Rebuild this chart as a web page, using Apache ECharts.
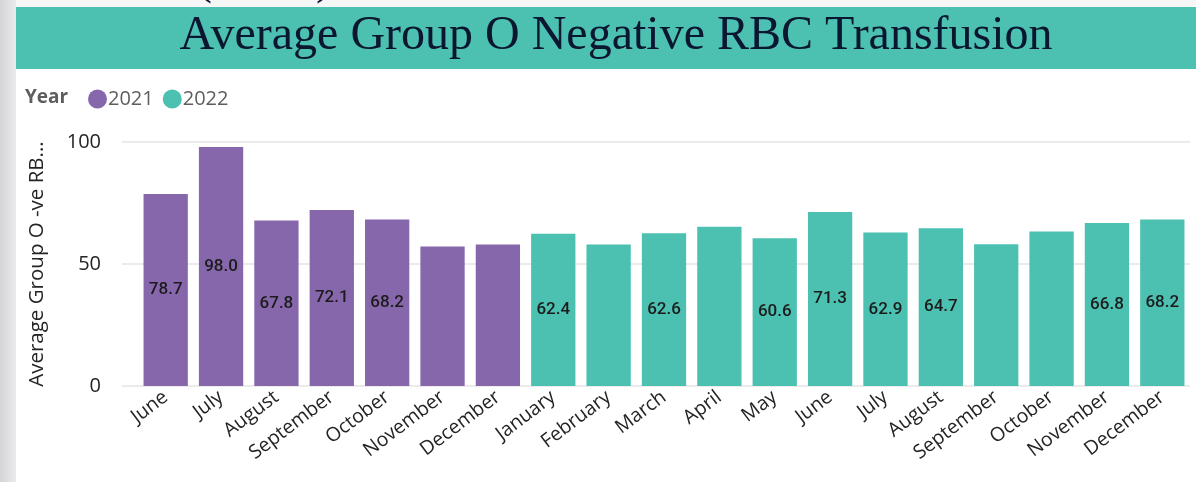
<!DOCTYPE html>
<html>
<head>
<meta charset="utf-8">
<title>Average Group O Negative RBC Transfusion</title>
<script src="https://cdn.jsdelivr.net/npm/echarts@6/dist/echarts.min.js"></script>
<style>
  html, body { margin: 0; padding: 0; background: #fff; }
  #main { width: 1196px; height: 482px; }
</style>
</head>
<body>
<div id="main"></div>
<script>
// 月份（2021年6月 - 2022年12月）
var months2021 = ['June', 'July', 'August', 'September', 'October', 'November', 'December'];
var months2022 = ['January', 'February', 'March', 'April', 'May', 'June', 'July', 'August', 'September', 'October', 'November', 'December'];
// 平均值
var values2021 = [78.7, 98.0, 67.8, 72.1, 68.2, 57.2, 58.0];
var values2022 = [62.4, 58.0, 62.6, 65.3, 60.6, 71.3, 62.9, 64.7, 58.1, 63.3, 66.8, 68.2];
// 只有这些柱子显示数据标签
var labeledIdx = [0, 1, 2, 3, 4, 7, 9, 11, 12, 13, 14, 17, 18];
var yTicks = [0, 50, 100];

var categories = months2021.concat(months2022);

function buildData(vals, offset) {
  return categories.map(function (c, i) {
    var v = vals[i - offset];
    if (v === undefined) return null;
    return { value: v, label: { show: labeledIdx.indexOf(i) > -1 } };
  });
}

var purple = '#8767ac';
var teal = '#4cc0b1';

var myChart = echarts.init(document.getElementById('main'));

var option = {
  animation: false,
  graphic: [
    // 左侧灰色阴影条
    { type: 'rect', left: 0, top: 0, shape: { width: 16, height: 482 }, z: 0,
      style: { fill: new echarts.graphic.LinearGradient(0, 0, 1, 0, [
        { offset: 0, color: '#d4d4d6' }, { offset: 1, color: '#ebebed' }]) } },
    { type: 'rect', left: 16, top: 0, shape: { width: 1180, height: 7 }, z: 0,
      style: { fill: '#f6f6f6' } },
    // 被裁掉的上方文字
    { type: 'text', x: 264, y: 4, z: 1,
      style: { text: '(Units)', font: '48px "Liberation Serif"', fill: '#0b1630',
        textAlign: 'center', textVerticalAlign: 'bottom' } },
    // 标题栏
    { type: 'rect', left: 16, top: 7, shape: { width: 1180, height: 62 }, z: 1,
      style: { fill: '#4cc1b1' } },
    { type: 'text', x: 616, y: 36, z: 2,
      style: { text: 'Average Group O Negative RBC Transfusion', font: '48px "Liberation Serif"',
        fill: '#0b1630', textAlign: 'center', textVerticalAlign: 'middle' } },
    { type: 'text', x: 25, y: 98, z: 2,
      style: { text: 'Year', font: 'bold 19px "Open Sans"', fill: '#605e5c',
        textAlign: 'left', textVerticalAlign: 'middle' } }
  ],
  legend: {
    left: 83,
    top: 84,
    icon: 'circle',
    itemWidth: 19,
    itemHeight: 19,
    itemGap: 9,
    textStyle: { fontFamily: 'Open Sans', fontSize: 20, color: '#605e5c', padding: [0, 0, 0, -4] },
    data: ['2021', '2022']
  },
  grid: [
    { left: 122, right: 6, top: 142, bottom: 96 },
    { left: 138, right: 6, top: 142, bottom: 96 }
  ],
  xAxis: [
    { gridIndex: 0, type: 'value', show: false },
    {
      gridIndex: 1,
      type: 'category',
      data: categories,
      axisLine: { show: false },
      axisTick: { show: false },
      axisLabel: {
        rotate: 37,
        interval: 0,
        margin: 9,
        fontFamily: 'Open Sans',
        fontSize: 19.5,
        color: '#252423'
      }
    }
  ],
  yAxis: [
    {
      gridIndex: 0,
      type: 'value',
      min: yTicks[0],
      max: yTicks[yTicks.length - 1],
      interval: 50,
      name: 'Average Group O -ve RB...',
      nameLocation: 'middle',
      nameGap: 74,
      nameTextStyle: { fontFamily: 'Open Sans', fontSize: 20.5, color: '#252423' },
      axisLine: { show: false },
      axisTick: { show: false },
      axisLabel: { margin: 21, fontFamily: 'Open Sans', fontSize: 20, color: '#252423' },
      splitLine: { lineStyle: { color: '#e4e4e4', width: 1.5 } }
    },
    {
      gridIndex: 1,
      type: 'value',
      min: yTicks[0],
      max: yTicks[yTicks.length - 1],
      show: false,
      splitLine: { show: false }
    }
  ],
  series: [
    {
      name: '2021',
      type: 'bar',
      stack: 'year',
      xAxisIndex: 1,
      yAxisIndex: 1,
      barCategoryGap: '20%',
      itemStyle: { color: purple },
      label: {
        position: 'inside',
        formatter: function (p) { return p.value.toFixed(1); },
        fontFamily: 'Roboto',
        fontWeight: 500,
        fontSize: 17,
        color: '#1b1b1b'
      },
      data: buildData(values2021, 0)
    },
    {
      name: '2022',
      type: 'bar',
      stack: 'year',
      xAxisIndex: 1,
      yAxisIndex: 1,
      barCategoryGap: '20%',
      itemStyle: { color: teal },
      label: {
        position: 'inside',
        formatter: function (p) { return p.value.toFixed(1); },
        fontFamily: 'Roboto',
        fontWeight: 500,
        fontSize: 17,
        color: '#1b1b1b'
      },
      data: buildData(values2022, months2021.length)
    }
  ]
};

myChart.setOption(option);
</script>
</body>
</html>
